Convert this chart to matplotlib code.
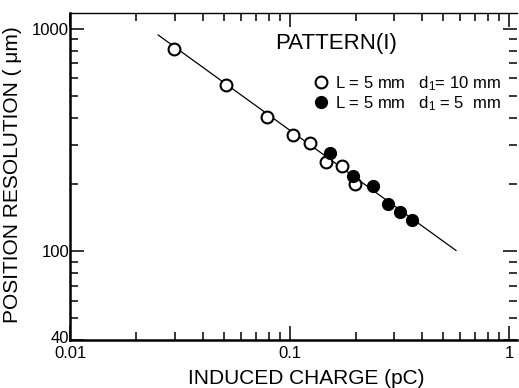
import matplotlib
matplotlib.use("Agg")
import matplotlib.pyplot as plt
import matplotlib.transforms as mtransforms
from matplotlib.ticker import LogLocator, FixedLocator, FixedFormatter, NullFormatter

plt.rcParams["font.family"] = ["Liberation Sans", "DejaVu Sans"]
plt.rcParams["mathtext.fontset"] = "custom"
plt.rcParams["mathtext.rm"] = "Liberation Sans"
plt.rcParams["mathtext.it"] = "Liberation Sans"

# open circles: L = 5 mm, d1 = 10 mm
charge_d10 = [0.0297, 0.0512, 0.0787, 0.1035, 0.1236, 0.1462, 0.173, 0.198]
resolution_d10 = [812, 560, 402, 333, 306, 252, 241, 202]

# filled circles: L = 5 mm, d1 = 5 mm
charge_d5 = [0.1525, 0.194, 0.239, 0.2805, 0.318, 0.361]
resolution_d5 = [276, 218, 196, 164, 151, 138]

# fitted line
fit_charge = [0.0251, 0.573]
fit_resolution = [940, 101]

x_ticks = [0.01, 0.1, 1]
x_tick_labels = ["0.01", "0.1", "1"]
y_ticks = [40, 100, 1000]
y_tick_labels = ["40", "100", "1000"]

figure = plt.figure(figsize=(5.19, 3.88), dpi=100)
axis = figure.add_axes([0.1358, 0.1237, 0.8604, 0.8428])

axis.plot(fit_charge, fit_resolution, color="black", linewidth=0.9, zorder=1)
axis.plot(charge_d10, resolution_d10, "o", markersize=8.5, markerfacecolor="white",
          markeredgecolor="black", markeredgewidth=1.5, linestyle="none", zorder=2,
          label="L = 5 mm   d$_1$= 10 mm")
axis.plot(charge_d5, resolution_d5, "o", markersize=8.5, markerfacecolor="black",
          markeredgecolor="black", markeredgewidth=1.0, linestyle="none", zorder=3,
          label="L = 5 mm   d$_1$ = 5  mm")

axis.set_xscale("log")
axis.set_yscale("log")
axis.set_xlim(0.01, 1.087)
axis.set_ylim(40, 1180)

axis.xaxis.set_major_locator(FixedLocator(x_ticks))
axis.xaxis.set_major_formatter(FixedFormatter(x_tick_labels))
axis.xaxis.set_minor_locator(LogLocator(base=10, subs=range(2, 10)))
axis.xaxis.set_minor_formatter(NullFormatter())
axis.yaxis.set_major_locator(FixedLocator(y_ticks))
axis.yaxis.set_major_formatter(FixedFormatter(y_tick_labels))
axis.yaxis.set_minor_locator(LogLocator(base=10, subs=range(2, 10)))
axis.yaxis.set_minor_formatter(NullFormatter())

axis.tick_params(which="both", direction="in", top=True, right=True, width=1.1,
                 labelsize=12, pad=1)
axis.tick_params(which="major", length=10)
axis.tick_params(which="minor", length=6)
axis.tick_params(axis="x", which="major", pad=4)

# nudge the lowest y label up a little so it clears "0.01"
figure.canvas.draw()
lowest_label = axis.yaxis.get_majorticklabels()[0]
lowest_label.set_transform(lowest_label.get_transform()
                           + mtransforms.ScaledTranslation(0, 3 / 100, figure.dpi_scale_trans))

axis.spines["left"].set_linewidth(1.8)
axis.spines["bottom"].set_linewidth(1.8)
axis.spines["top"].set_linewidth(1.0)
axis.spines["right"].set_visible(False)

axis.text(0.459, 0.908, "PATTERN(I)", transform=axis.transAxes, fontsize=16,
          ha="left", va="center")
axis.legend(loc="upper left", bbox_to_anchor=(0.543, 0.814), frameon=False,
            fontsize=12, handletextpad=0.3, labelspacing=0.1, borderpad=0,
            handlelength=1.0, borderaxespad=0)

figure.text(13 / 519, 1 - 175 / 388, "POSITION RESOLUTION ( \u03bcm)", rotation=90,
            ha="center", va="center", fontsize=15)
figure.text(306 / 519, 1 - 378 / 388, "INDUCED CHARGE (pC)", ha="center",
            va="center", fontsize=15)

figure.savefig("out.png", dpi=100)
